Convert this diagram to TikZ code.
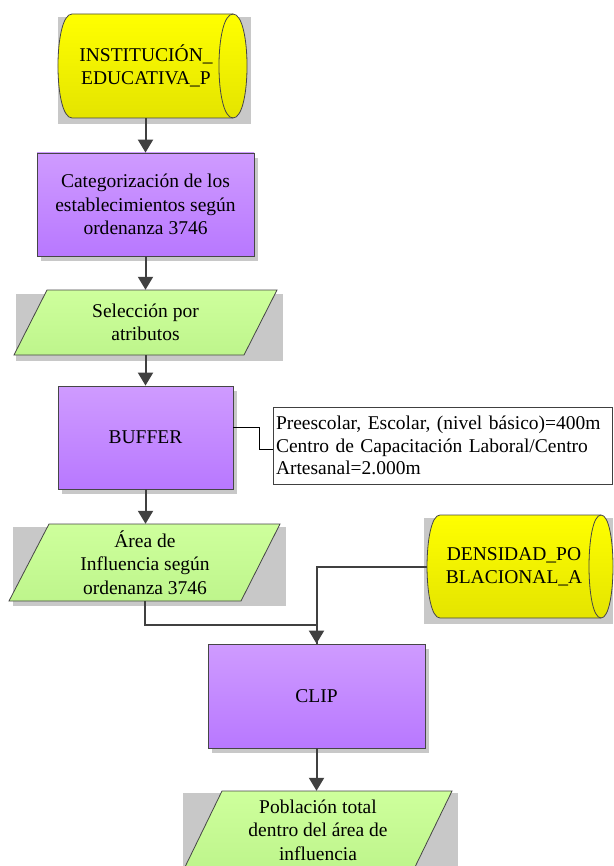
\documentclass[tikz,border=0pt]{standalone}
\usepackage{fontspec}
\setmainfont{Liberation Serif}
\usetikzlibrary{arrows.meta}
\definecolor{shd}{RGB}{200,200,200}
\definecolor{bord}{RGB}{70,70,70}
\definecolor{arrc}{RGB}{64,64,64}
\definecolor{purT}{RGB}{207,155,255}
\definecolor{purB}{RGB}{184,120,255}
\definecolor{grnT}{RGB}{206,255,156}
\definecolor{grnB}{RGB}{190,245,140}
\definecolor{yelT}{RGB}{255,255,0}
\definecolor{yelB}{RGB}{228,228,0}
\begin{document}
\begin{tikzpicture}[x=1pt,y=-1pt,
  txt/.style={font=\fontsize{19.5}{23.5}\selectfont, align=center, inner sep=0pt, text=black},
  procbox/.style={txt, draw=bord, line width=0.8pt, top color=purT, bottom color=purB},
  iofill/.style={draw=bord, line width=0.8pt, top color=grnT, bottom color=grnB},
  dbfill/.style={draw=bord, line width=0.8pt, top color=yelT, bottom color=yelB},
  shadowbox/.style={fill=shd, draw=none},
  arr/.style={draw=arrc, line width=2pt, -{Triangle[width=15pt,length=13pt]}},
  plain/.style={draw=arrc, line width=2pt},
  noteline/.style={draw=black, line width=0.8pt},
  notebox/.style={draw=black!75, line width=0.8pt, fill=white, font=\fontsize{19.5}{22.5}\selectfont, align=left, inner xsep=3pt, inner ysep=0pt}
]
\useasboundingbox (0,0) rectangle (613,866);

% ---------- INSTITUCION cylinder ----------
\fill[shadowbox] (58,17) rectangle (251,124);
\path[dbfill] (72,14) -- (233,14) .. controls (251.7,14) and (251.7,118) .. (233,118)
  -- (72,118) .. controls (53.3,118) and (53.3,14) .. (72,14) -- cycle;
\draw[bord, line width=0.8pt] (233,14) .. controls (214.3,14) and (214.3,118) .. (233,118);
\node[txt, minimum width=150pt, minimum height=104pt] (inst) at (146,66) {INSTITUCIÓN\_\\EDUCATIVA\_P};

% ---------- Categorizacion ----------
\fill[shadowbox] (41,158) rectangle (258,261);
\node[procbox, minimum width=217pt, minimum height=103pt] (cat) at (145.5,204.5)
  {Categorización de los\\establecimientos según\\ordenanza 3746};

% ---------- Seleccion ----------
\fill[shadowbox] (16,294) rectangle (283,361);
\path[iofill] (47,290) -- (277,290) -- (244,355) -- (14,355) -- cycle;
\node[txt, minimum width=200pt, minimum height=65pt] (sel) at (145.5,322.5) {Selección por\\atributos};

% ---------- BUFFER ----------
\fill[shadowbox] (62,391) rectangle (237,494);
\node[procbox, minimum width=175pt, minimum height=103pt] (buf) at (145.5,437.5) {BUFFER};

% ---------- note ----------
\node[notebox, text width=333pt, minimum height=77pt] (note) at (442.5,445.5)
  {Preescolar, Escolar, (nivel básico)=400m\\Centro de Capacitación Laboral/Centro\\Artesanal=2.000m};

% ---------- Area ----------
\fill[shadowbox] (13,527) rectangle (286,606);
\path[iofill] (49,524) -- (280,524) -- (241,601) -- (9,601) -- cycle;
\node[txt, minimum width=200pt, minimum height=77pt] (area) at (145,562.5) {Área de\\Influencia según\\ordenanza 3746};

% ---------- DENSIDAD cylinder ----------
\fill[shadowbox] (424,518) rectangle (613,624);
\path[dbfill] (440,515) -- (601,515) .. controls (617,515) and (617,618) .. (601,618)
  -- (440,618) .. controls (422.7,618) and (422.7,515) .. (440,515) -- cycle;
\draw[bord, line width=0.8pt] (601,515) .. controls (585,515) and (585,618) .. (601,618);
\node[txt, minimum width=174pt, minimum height=103pt] (dens) at (514,567) {DENSIDAD\_PO\\BLACIONAL\_A};

% ---------- CLIP ----------
\fill[shadowbox] (212,649) rectangle (429,753);
\node[procbox, minimum width=217pt, minimum height=104pt] (clip) at (316.5,696) {CLIP};

% ---------- Poblacion ----------
\fill[shadowbox] (183,793) rectangle (458,872);
\path[iofill] (222,791) -- (452,791) -- (414,869) -- (184,869) -- cycle;
\node[txt, minimum width=200pt, minimum height=78pt] (pob) at (318,830) {Población total\\dentro del área de\\influencia};

% ---------- connectors ----------
\draw[arr] (cat.north |- inst.south) -- (cat.north);
\draw[arr] (cat.south) -- (sel.north);
\draw[arr] (sel.south) -- (buf.north);
\draw[arr] (buf.south) -- (buf.south |- area.north);
\draw[plain] (area.south) -- ++(0,24) -| (clip.north);
\draw[arr] (dens.west) -| (clip.north);
\draw[arr] (clip.south) -- (clip.south |- pob.north);
\draw[noteline] ([yshift=10pt]buf.east) -- ++(26,0) |- ([yshift=-3.5pt]note.west);
\end{tikzpicture}
\end{document}
